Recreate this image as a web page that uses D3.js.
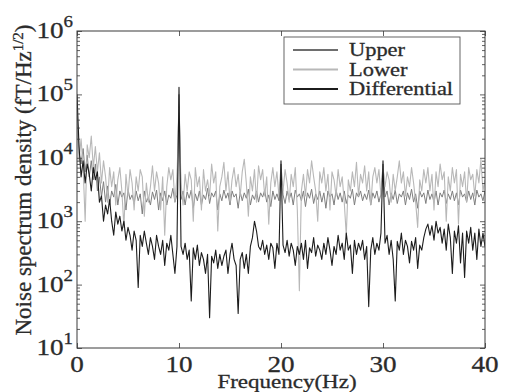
<!DOCTYPE html>
<html>
<head>
<meta charset="utf-8">
<script src="https://cdn.jsdelivr.net/npm/d3@7"></script>
<style>
  html, body { margin: 0; padding: 0; background: #fff; }
  svg { display: block; }
  text {
    font-family: "Liberation Serif", "Times New Roman", Times, serif;
    fill: #2b2b2b;
    stroke: #2b2b2b;
    stroke-width: 0.3;
  }
</style>
</head>
<body>
<svg id="chart" width="507" height="392"></svg>
<script>
// Spectra sampled every 0.2 Hz from 0 to 40 Hz, values in fT/Hz^1/2.
const freqStep = 0.2;

const upper = [
  50000, 12000, 8000, 14000, 6000, 11000, 5000, 9000, 4500, 8000,
  3000, 5000, 2400, 4200, 2000, 3600, 1800, 3000, 2400, 3800,
  1800, 3000, 2400, 2800, 1500, 3200, 2200, 2600, 1900, 3000,
  2100, 2700, 1300, 3000, 2000, 2400, 1800, 2900, 2200, 3100,
  1500, 2800, 2100, 3000, 1800, 2600, 2300, 3300, 2000, 2600,
  100000, 2200, 3000, 1800, 2900, 2300, 3100, 1600, 2700, 2100,
  3000, 1800, 2600, 2200, 3300, 1900, 2800, 2400, 3000, 1500,
  2700, 2100, 3100, 2300, 2800, 1800, 3000, 2400, 2700, 1600,
  2900, 2100, 2800, 2300, 3200, 1800, 2600, 2200, 3000, 2000,
  2800, 2400, 3100, 2000, 2600, 1700, 3000, 2200, 2700, 2100,
  8000, 2600, 1900, 3000, 2200, 2800, 1800, 3100, 2400, 2700,
  2100, 3000, 1700, 2800, 2300, 3200, 1900, 2700, 2200, 3000,
  2000, 2800, 1600, 3000, 2400, 2700, 1800, 3100, 2200, 2800,
  2000, 3000, 1900, 2600, 2300, 3200, 1800, 2800, 2400, 3000,
  2100, 2700, 2200, 3100, 1800, 2800, 2300, 3000, 2000, 2700,
  8000, 2400, 3000, 1800, 2800, 2200, 3100, 1900, 2700, 2400,
  3000, 1800, 2800, 2200, 3200, 2000, 2700, 1600, 3000, 2400,
  2800, 1900, 3100, 2200, 2700, 2000, 3000, 1800, 2800, 2400,
  3100, 1900, 2700, 2200, 3000, 2100, 2800, 1800, 3100, 2400,
  2700, 2000, 3000, 2200, 2800, 1800, 3100, 2400, 2700, 2100,
  3000
];

const lower = [
  40000, 9000, 20000, 7000, 1000, 16000, 10000, 22000, 7000, 15000,
  6000, 12000, 4000, 9000, 5000, 2000, 7000, 3500, 6000, 1800,
  4500, 7000, 3000, 800, 5500, 2500, 6500, 4000, 1500, 5000,
  3000, 6500, 5000, 1200, 4000, 2000, 3500, 7500, 3000, 6000,
  4000, 1500, 5000, 600, 3500, 7000, 4500, 6500, 2000, 5000,
  60000, 4000, 1800, 5500, 3000, 6000, 4500, 1000, 7000, 3500,
  5000, 1500, 6500, 3000, 4500, 2500, 8000, 4000, 6000, 700,
  3500, 5000, 8500, 3000, 6000, 2000, 4500, 7000, 3500, 5500,
  2500, 6000, 9500, 4000, 1200, 5000, 3000, 6500, 2000, 7500,
  4500, 6500, 2500, 5000, 900, 4000, 7000, 3500, 6000, 2500,
  5000, 3000, 6500, 4000, 2000, 5500, 3500, 7000, 1500, 80,
  3000, 5500, 2500, 6500, 4000, 9000, 5000, 3000, 1000, 6000,
  4000, 7000, 3000, 5500, 1500, 6000, 4500, 2500, 6500, 3500,
  5000, 2000, 600, 4500, 3000, 6000, 3500, 8500, 2500, 5500,
  4000, 7500, 3000, 6000, 1800, 5000, 7000, 4000, 6500, 2500,
  7000, 3500, 6000, 4500, 2000, 5500, 3000, 5000, 9000, 4000,
  6000, 2500, 5000, 3500, 7000, 4000, 2000, 800, 4500, 3000,
  6500, 4000, 7000, 3000, 5500, 1500, 6000, 3500, 8000, 4500,
  6000, 1000, 5000, 3000, 7000, 4000, 6500, 900, 5500, 3500,
  6000, 2000, 7000, 4500, 5500, 2500, 6500, 4000, 9500, 3000,
  4500
];

const differential = [
  100000, 15000, 5000, 9000, 4000, 8000, 5500, 3000, 7000, 4500,
  6000, 2000, 2500, 1000, 1800, 1300, 2200, 1000, 600, 1400,
  900, 1200, 700, 1000, 500, 800, 600, 350, 700, 500,
  90, 600, 400, 700, 450, 300, 550, 400, 250, 600,
  400, 300, 500, 200, 450, 350, 600, 300, 150, 400,
  130000, 400, 300, 450, 250, 350, 55, 380, 250, 420,
  200, 320, 250, 150, 300, 30, 280, 220, 350, 180,
  300, 200, 280, 350, 150, 300, 450, 250, 200, 35,
  250, 320, 180, 300, 150, 400, 550, 1000, 700, 400,
  350, 500, 300, 420, 250, 450, 380, 180, 450, 300,
  9000, 420, 320, 500, 280, 450, 350, 200, 400, 300,
  450, 250, 500, 180, 380, 320, 550, 280, 420, 350,
  250, 450, 300, 550, 350, 200, 400, 300, 600, 350,
  450, 250, 650, 350, 420, 150, 500, 300, 450, 350,
  500, 250, 400, 45, 350, 550, 300, 450, 350, 650,
  9000, 450, 600, 300, 500, 250, 55, 480, 350, 650,
  300, 500, 400, 220, 480, 350, 550, 180, 420, 350,
  550, 750, 900, 600, 850, 500, 1000, 650, 800, 450,
  750, 350, 900, 550, 150, 700, 450, 850, 220, 650,
  130, 700, 450, 800, 350, 650, 250, 750, 400, 650,
  400
];

const seriesNames = ["Upper", "Lower", "Differential"];
const seriesColors = ["#6e6e6e", "#b8b8b8", "#1c1c1c"];
const lineColors = ["#7e7e7e", "#b8b8b8", "#1c1c1c"];
const xTickValues = [0, 10, 20, 30, 40];
const yDecades = [1e1, 1e2, 1e3, 1e4, 1e5, 1e6];

const plot = { left: 77, right: 485, top: 31, bottom: 348 };
const textStretch = 1.18; // source glyphs are drawn wide

const svg = d3.select("#chart");

const x = d3.scaleLinear().domain([0, 40]).range([plot.left, plot.right]);
const y = d3.scaleLog().domain([10, 1e6]).range([plot.bottom, plot.top]);

svg.append("defs").append("clipPath").attr("id", "plot-clip")
  .append("rect")
  .attr("x", plot.left)
  .attr("y", plot.top)
  .attr("width", plot.right - plot.left)
  .attr("height", plot.bottom - plot.top);

// Series lines
const line = d3.line()
  .x((d, i) => x(i * freqStep))
  .y((d) => y(d));

const lineLayer = svg.append("g").attr("clip-path", "url(#plot-clip)");
[upper, lower, differential].forEach((values, k) => {
  lineLayer.append("path")
    .datum(values)
    .attr("fill", "none")
    .attr("stroke", lineColors[k])
    .attr("stroke-width", k === 0 ? 1 : 1.1)
    .attr("stroke-linejoin", "round")
    .attr("d", line);
});

// Ticks, all pointing inward
const minorTicks = y.ticks().filter((v) => !yDecades.includes(v));
const axisColor = "#3a3a3a";

const addAxis = (axis, tx, ty) => {
  const g = svg.append("g")
    .attr("transform", `translate(${tx},${ty})`)
    .call(axis.tickFormat("").tickSizeOuter(0));
  g.select(".domain").remove();
  g.selectAll("line").attr("stroke", axisColor).attr("stroke-width", 0.8);
};

addAxis(d3.axisBottom(x).tickValues(xTickValues).tickSizeInner(-5), 0, plot.bottom);
addAxis(d3.axisTop(x).tickValues(xTickValues).tickSizeInner(-5), 0, plot.top);
addAxis(d3.axisLeft(y).tickValues(yDecades).tickSizeInner(-5), plot.left, 0);
addAxis(d3.axisLeft(y).tickValues(minorTicks).tickSizeInner(-3), plot.left, 0);
addAxis(d3.axisRight(y).tickValues(yDecades).tickSizeInner(-5), plot.right, 0);
addAxis(d3.axisRight(y).tickValues(minorTicks).tickSizeInner(-3), plot.right, 0);

svg.append("rect")
  .attr("x", plot.left)
  .attr("y", plot.top)
  .attr("width", plot.right - plot.left)
  .attr("height", plot.bottom - plot.top)
  .attr("fill", "none")
  .attr("stroke", axisColor)
  .attr("stroke-width", 1);

// Tick labels
svg.append("g")
  .selectAll("text")
  .data(xTickValues)
  .join("text")
  .attr("transform", (d) => `translate(${x(d)},372) scale(${textStretch},1)`)
  .attr("text-anchor", "middle")
  .attr("font-size", 23)
  .text((d) => d);

const yLabels = svg.append("g")
  .selectAll("text")
  .data(yDecades)
  .join("text")
  .attr("transform", (d) => `translate(73,${y(d) + 7}) scale(${textStretch},1)`)
  .attr("text-anchor", "end")
  .attr("font-size", 23);
yLabels.append("tspan").text("10");
yLabels.append("tspan")
  .attr("font-size", 16)
  .attr("dy", -11)
  .text((d) => Math.round(Math.log10(d)));

// Axis titles
svg.append("text")
  .attr("transform", `translate(287,388) scale(${textStretch},1)`)
  .attr("text-anchor", "middle")
  .attr("font-size", 19.5)
  .text("Frequency(Hz)");

const yTitle = svg.append("text")
  .attr("transform", "translate(31,180) rotate(-90)")
  .attr("text-anchor", "middle")
  .attr("font-size", 23);
yTitle.append("tspan").text("Noise spectrum density (fT/Hz");
yTitle.append("tspan").attr("font-size", 15).attr("dy", -8).text("1/2");
yTitle.append("tspan").attr("dy", 8).text(")");

// Legend
const legend = svg.append("g").attr("transform", "translate(284,37)");
legend.append("rect")
  .attr("width", 176)
  .attr("height", 67)
  .attr("fill", "#fff")
  .attr("stroke", "#555")
  .attr("stroke-width", 0.9);

const legendRows = legend.selectAll("g.row")
  .data(seriesNames)
  .join("g")
  .attr("class", "row")
  .attr("transform", (d, i) => `translate(0,${13 + i * 19.5})`);
legendRows.append("line")
  .attr("x1", 9)
  .attr("x2", 54)
  .attr("stroke", (d, i) => seriesColors[i])
  .attr("stroke-width", 2);
legendRows.append("text")
  .attr("transform", `translate(65,6) scale(${textStretch},1)`)
  .attr("font-size", 19)
  .text((d) => d);
</script>
</body>
</html>
